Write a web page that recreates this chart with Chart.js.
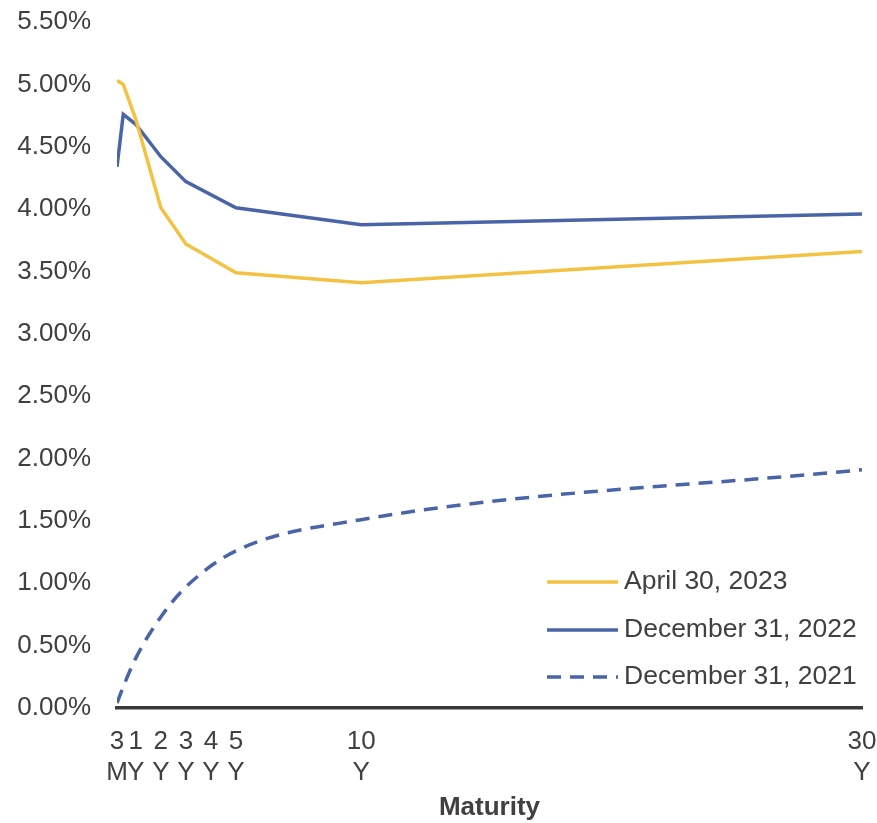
<!DOCTYPE html>
<html>
<head>
<meta charset="utf-8">
<title>Yield curve</title>
<script src="https://cdn.jsdelivr.net/npm/chart.js@4.4.1/dist/chart.umd.min.js"></script>
<style>
    html, body { margin: 0; padding: 0; background: #ffffff; }
    #wrap { position: relative; width: 877px; height: 823px; }
</style>
</head>
<body>
<div id="wrap"><canvas id="yield-chart"></canvas></div>
<script>
// maturities in years
const maturities = [0.25, 0.5, 1, 2, 3, 5, 10, 30];
const tickYears = [0.25, 1, 2, 3, 4, 5, 10, 30];
const tickLabels = [['3', 'M'], ['1', 'Y'], ['2', 'Y'], ['3', 'Y'], ['4', 'Y'], ['5', 'Y'], ['10', 'Y'], ['30', 'Y']];

const seriesNames = ['April 30, 2023', 'December 31, 2022', 'December 31, 2021'];
const apr2023 = [5.03, 5.00, 4.72, 4.01, 3.72, 3.49, 3.41, 3.66];
const dec2022 = [4.34, 4.76, 4.68, 4.42, 4.22, 4.01, 3.875, 3.96];
const dec2021 = [0.04, 0.17, 0.40, 0.73, 0.97, 1.26, 1.51, 1.91];

const yellow = '#F4C242';
const blue = '#4A64A8';
const textColor = '#404040';
const fontFamily = '"Liberation Sans", Arial, sans-serif';
const lineWidth = 3.5;

const toPoints = values => maturities.map((m, i) => ({ x: m, y: values[i] }));

// legend drawn inside the plot, bottom right
const insideLegend = {
    id: 'insideLegend',
    afterDraw(chart) {
        const { ctx, chartArea } = chart;
        const rows = [-126, -78, -31];
        ctx.save();
        ctx.font = `26.5px ${fontFamily}`;
        ctx.textBaseline = 'middle';
        ctx.fillStyle = textColor;
        chart.data.datasets.forEach((ds, i) => {
            const y = chartArea.bottom + rows[i];
            const x0 = chartArea.right - 315;
            ctx.beginPath();
            ctx.strokeStyle = ds.borderColor;
            ctx.lineWidth = lineWidth;
            ctx.setLineDash(ds.borderDash || []);
            ctx.moveTo(x0, y);
            ctx.lineTo(x0 + 71, y);
            ctx.stroke();
            ctx.setLineDash([]);
            ctx.fillText(ds.label, x0 + 77, y);
        });
        ctx.restore();
    }
};

const ctx = document.getElementById('yield-chart').getContext('2d');

new Chart(ctx, {
    type: 'line',
    data: {
        datasets: [
            {
                label: seriesNames[0],
                data: toPoints(apr2023),
                borderColor: yellow,
                borderWidth: lineWidth,
                pointRadius: 0,
                tension: 0
            },
            {
                label: seriesNames[1],
                data: toPoints(dec2022),
                borderColor: blue,
                borderWidth: lineWidth,
                pointRadius: 0,
                tension: 0
            },
            {
                label: seriesNames[2],
                data: toPoints(dec2021),
                borderColor: blue,
                borderWidth: lineWidth,
                borderDash: [14, 9],
                pointRadius: 0,
                cubicInterpolationMode: 'monotone'
            }
        ]
    },
    options: {
        responsive: true,
        maintainAspectRatio: false,
        animation: false,
        layout: { padding: { top: 22, right: 15, bottom: 0, left: 0 } },
        plugins: {
            legend: { display: false },
            tooltip: { enabled: false }
        },
        scales: {
            x: {
                type: 'linear',
                min: 0.25,
                max: 30,
                grid: { display: false, drawTicks: false },
                border: { display: true, color: '#3a3a3a', width: 3.5 },
                afterBuildTicks: scale => {
                    scale.ticks = tickYears.map(v => ({ value: v }));
                },
                afterFit: scale => {
                    scale.height = 115;
                    scale.paddingLeft = 0;
                    scale.paddingRight = 0;
                },
                ticks: {
                    autoSkip: false,
                    maxRotation: 0,
                    padding: 18,
                    color: textColor,
                    font: { family: fontFamily, size: 26, lineHeight: 1.2 },
                    callback: (value, index) => tickLabels[index]
                },
                title: {
                    display: true,
                    text: 'Maturity',
                    color: textColor,
                    padding: { top: 0, bottom: 0 },
                    font: { family: fontFamily, size: 26, weight: 'bold', lineHeight: 1.15 }
                }
            },
            y: {
                min: 0,
                max: 5.5,
                grid: { display: false, drawTicks: false },
                border: { display: false },
                afterFit: scale => {
                    scale.width = 117;
                    scale.paddingTop = 0;
                    scale.paddingBottom = 0;
                },
                ticks: {
                    stepSize: 0.5,
                    padding: 26,
                    color: textColor,
                    font: { family: fontFamily, size: 26 },
                    callback: value => value.toFixed(2) + '%'
                }
            }
        }
    },
    plugins: [insideLegend]
});
</script>
</body>
</html>
